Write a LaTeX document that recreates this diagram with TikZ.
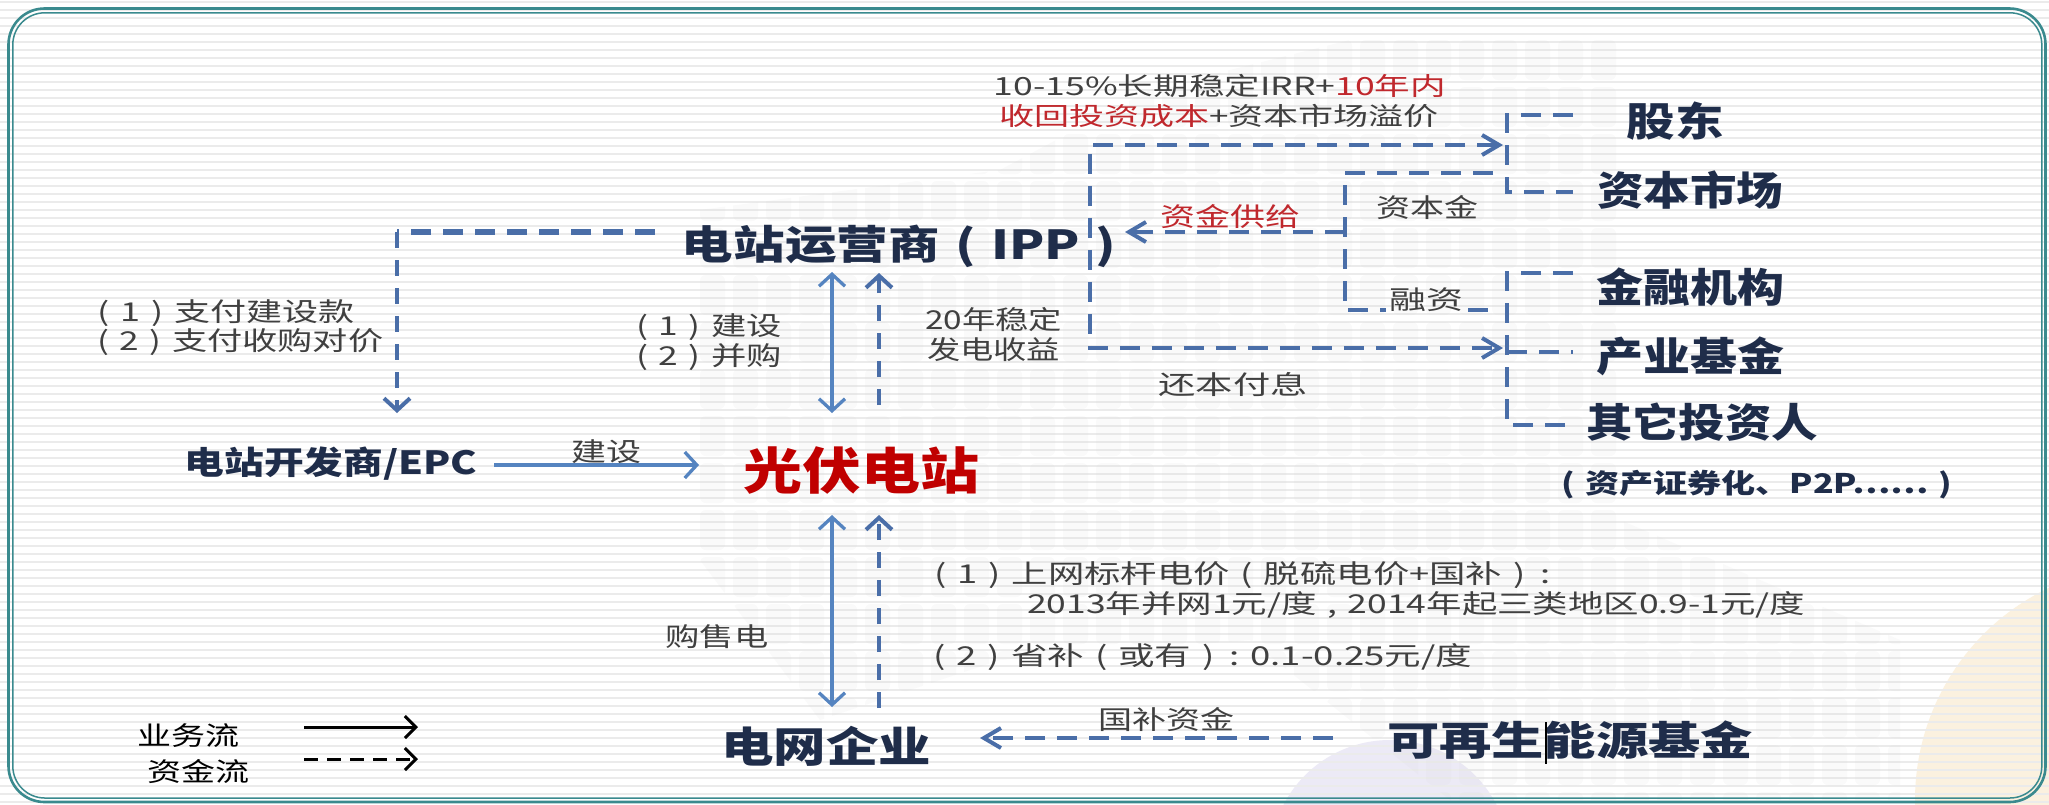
\documentclass[tikz,border=0pt]{standalone}
\usepackage{fontspec}
\setmainfont{Noto Sans CJK SC}
\usepackage{graphicx}
\usetikzlibrary{arrows.meta}
\definecolor{navy}{HTML}{1F2D4A}
\definecolor{txtgray}{HTML}{404040}
\definecolor{redd}{HTML}{C00000}
\definecolor{redl}{HTML}{C0282D}
\definecolor{dblue}{HTML}{4A6EA8}
\definecolor{sblue}{HTML}{5584C0}
\definecolor{tealf}{HTML}{3A8A8E}
\definecolor{stripec}{HTML}{EBEBEB}
\definecolor{yellowbg}{HTML}{FBF1DF}
\definecolor{lavbg}{HTML}{ECEAF6}
\definecolor{blockc}{HTML}{D6D6D6}
\newcommand{\fitw}[2]{\resizebox{#1pt}{\height}{#2}}
\newcommand{\mylp}{(\hspace{0.3em}}
\newcommand{\myrp}{\hspace{0.3em})}
\tikzset{
  lbl/.style={inner sep=0pt, text=txtgray, font=\fontsize{26}{30}\selectfont},
  big/.style={inner sep=0pt, text=navy, font=\bfseries\fontsize{40}{44}\selectfont},
  dline/.style={draw=dblue, line width=4pt, dash pattern=on 20pt off 12pt},
  dvline/.style={draw=dblue, line width=4pt, dash pattern=on 16pt off 12pt},
  dtip/.style={-{Straight Barb[length=12pt,width=26pt]}},
  htip/.style={-{Straight Barb[length=17pt,width=20pt]}},
  sarrow/.style={draw=sblue, line width=3.3pt},
  stip/.style={{Straight Barb[length=12pt,width=26pt]}-{Straight Barb[length=12pt,width=26pt]}},
  legarrow/.style={draw=black, line width=3pt, -{Straight Barb[length=11pt,width=22pt]}},
  framel/.style={draw=tealf},
  blk/.style={fill=blockc, fill opacity=0.12, rounded corners=6pt}
}
\begin{document}
\begin{tikzpicture}[x=1pt,y=-1pt]
\useasboundingbox (0,0) rectangle (2049,804);
% background
\fill[white] (0,0) rectangle (2049,804);
\fill[yellowbg] (2150,800) circle (235);
\fill[lavbg] (1390,860) circle (120);
\foreach \yy in {2,10,...,804} \draw[stripec, line width=2.5pt] (0,\yy) -- (2049,\yy);
% faint block map
\begin{scope}
\clip (700,210) -- (1000,170) -- (1150,90) -- (1350,40) -- (1620,40) -- (1620,520) -- (1900,640) -- (1900,800) -- (1450,800) -- (1250,640) -- (1000,660) -- (820,720) -- (700,560) -- cycle;
\foreach \bx in {700,733,...,1900} \foreach \by in {40,87,...,800} \fill[blk] (\bx,\by) rectangle ++(25,40);
\end{scope}
% frame
\draw[framel, line width=2.6pt, rounded corners=36pt] (8.5,8.5) rectangle (2045.5,802);
\draw[framel, line width=1.5pt, rounded corners=32pt] (12.8,12.8) rectangle (2041.8,798);

% text nodes
\node[lbl, font=\fontsize{25}{28}\selectfont] (irr1) at (1220,86) {\fitw{452}{10-15\%长期稳定IRR+\textcolor{redl}{10年内}}};
\node[lbl, font=\fontsize{25}{28}\selectfont] (irr2) at (1219,116) {\fitw{440}{\textcolor{redl}{收回投资成本}+资本市场溢价}};
\node[big] (gd) at (1675,121) {\fitw{97}{股东}};
\node[big] (zbsc) at (1690,190) {\fitw{186}{资本市场}};
\node[big] (jrjg) at (1690,287) {\fitw{188}{金融机构}};
\node[big] (cyjj) at (1690,356) {\fitw{188}{产业基金}};
\node[big] (qt) at (1702,422) {\fitw{232}{其它投资人}};
\node[big, font=\bfseries\fontsize{27}{30}\selectfont] (abs) at (1757,485) {\fitw{391}{\mylp 资产证券化、P2P……\myrp}};
\node[big, font=\bfseries\fontsize{40}{44}\selectfont] (ipp) at (899,246) {\fitw{434}{电站运营商\hspace{0.3em}\mylp IPP\myrp}};
\node[big, text=redd, font=\bfseries\fontsize{50}{54}\selectfont] (pv) at (861,470) {\fitw{236}{光伏电站}};
\node[big, font=\bfseries\fontsize{32}{36}\selectfont] (epc) at (331,464) {\fitw{293}{电站开发商/EPC}};
\node[big, font=\bfseries\fontsize{42}{46}\selectfont] (grid) at (826,746) {\fitw{210}{电网企业}};
\node[big, font=\bfseries\fontsize{40}{44}\selectfont] (fund) at (1570,740) {\fitw{366}{可再生能源基金}};

\node[lbl, anchor=west] (pay1) at (97,313) {\fitw{257}{\mylp 1\myrp\hspace{0.3em}支付建设款}};
\node[lbl, anchor=west] (pay2) at (97,342) {\fitw{286}{\mylp 2\myrp\hspace{0.3em}支付收购对价}};
\node[lbl, anchor=west] (bd1) at (636,327) {\fitw{146}{\mylp 1\myrp\hspace{0.3em}建设}};
\node[lbl, anchor=west] (bd2) at (636,357) {\fitw{146}{\mylp 2\myrp\hspace{0.3em}并购}};
\node[lbl, anchor=west] (inc1) at (925,320) {\fitw{137}{20年稳定}};
\node[lbl, anchor=west] (inc2) at (927,350) {\fitw{133}{发电收益}};
\node[lbl, text=redl] (zjgj) at (1230,217) {\fitw{140}{资金供给}};
\node[lbl] (zbj) at (1427,208) {\fitw{102}{资本金}};
\node[lbl] (rz) at (1426,300) {\fitw{74}{融资}};
\node[lbl] (hbfx) at (1233,385) {\fitw{149}{还本付息}};
\node[lbl] (js) at (606,452) {\fitw{70}{建设}};
\node[lbl] (gsd) at (717,637) {\fitw{103}{购售电}};
\node[lbl, anchor=west] (p1) at (934,575) {\fitw{616}{\mylp 1\myrp\hspace{0.3em}上网标杆电价\hspace{0.3em}\mylp 脱硫电价+国补\myrp\hspace{0.4em}:}};
\node[lbl, anchor=west] (p2) at (1027,605) {\fitw{778}{2013年并网1元/度\hspace{0.3em},\hspace{0.3em}2014年起三类地区0.9-1元/度}};
\node[lbl, anchor=west] (p3) at (933,657) {\fitw{539}{\mylp 2\myrp\hspace{0.3em}省补\hspace{0.3em}\mylp 或有\myrp\hspace{0.4em}:\hspace{0.3em}0.1-0.25元/度}};
\node[lbl] (gbzj) at (1166,720) {\fitw{136}{国补资金}};
\node[lbl, text=black, anchor=west] (ywl) at (137,736) {\fitw{102}{业务流}};
\node[lbl, text=black, anchor=west] (zjl) at (147,772) {\fitw{102}{资金流}};

% coordinates for connectors
\coordinate (ippL) at (655,232);
\coordinate (elbL) at (397,232);
\coordinate (epcT) at (397,413);
\coordinate (s1t) at (832,272);
\coordinate (s1b) at (832,413);
\coordinate (d1b) at (879,405);
\coordinate (d1t) at (879,273);
\coordinate (s2t) at (832,515);
\coordinate (s2b) at (832,707);
\coordinate (d2b) at (879,708);
\coordinate (d2t) at (879,515);
\coordinate (epcR) at (494,465);
\coordinate (pvL) at (699,465);
\coordinate (fundL) at (1333,738);
\coordinate (gridR) at (980,738);
\coordinate (rTopTip) at (1503,145);
\coordinate (rTopC) at (1090,145);
\coordinate (rBotC) at (1090,348);
\coordinate (rBotTip) at (1503,348);
\coordinate (bTR) at (1493,173);
\coordinate (bTL) at (1345,173);
\coordinate (bBL) at (1345,310);
\coordinate (bB1) at (1386,310);
\coordinate (bB2) at (1468,310);
\coordinate (bBR) at (1493,310);
\coordinate (zjS) at (1345,232);
\coordinate (ippR) at (1125,232);
\coordinate (v1a) at (1573,115);
\coordinate (v1b) at (1507,115);
\coordinate (v1c) at (1507,192);
\coordinate (v1d) at (1573,192);
\coordinate (v2a) at (1573,273);
\coordinate (v2b) at (1507,273);
\coordinate (v2c) at (1507,425);
\coordinate (v2d) at (1573,425);
\coordinate (v2e) at (1507,352);
\coordinate (v2f) at (1573,352);
\coordinate (lg1a) at (304,727);
\coordinate (lg1b) at (418,727);
\coordinate (lg2a) at (304,759);
\coordinate (lg2b) at (418,759);
\coordinate (curT) at (1546,722);
\coordinate (curB) at (1546,764);

% connectors
\draw[dline, line width=5.5pt] (ippL) -- (elbL);
\draw[dvline, dtip] (elbL) -- (epcT);
\draw[sarrow, stip] (s1t) -- (s1b);
\draw[dvline, dtip] (d1b) -- (d1t);
\draw[sarrow, stip] (s2t) -- (s2b);
\draw[dvline, dtip] (d2b) -- (d2t);
\draw[sarrow, -{Straight Barb[length=12pt,width=26pt]}] (epcR) -- (pvL);
\draw[dline, htip] (fundL) -- (gridR);
\draw[dline, {Straight Barb[length=17pt,width=20pt]}-{Straight Barb[length=17pt,width=20pt]}] (rTopTip) -- (rTopC) -- (rBotC) -- (rBotTip);
\draw[dline] (bTR) -- (bTL) -- (bBL) -- (bB1);
\draw[dline] (bB2) -- (bBR);
\draw[dline, htip] (zjS) -- (ippR);
\draw[dline] (v1a) -- (v1b) -- (v1c) -- (v1d);
\draw[dline] (v2a) -- (v2b) -- (v2c) -- (v2d);
\draw[dline] (v2e) -- (v2f);
\draw[legarrow] (lg1a) -- (lg1b);
\draw[legarrow, dash pattern=on 14pt off 9pt] (lg2a) -- (lg2b);
\draw[black, line width=1.5pt] (curT) -- (curB);
\end{tikzpicture}
\end{document}
